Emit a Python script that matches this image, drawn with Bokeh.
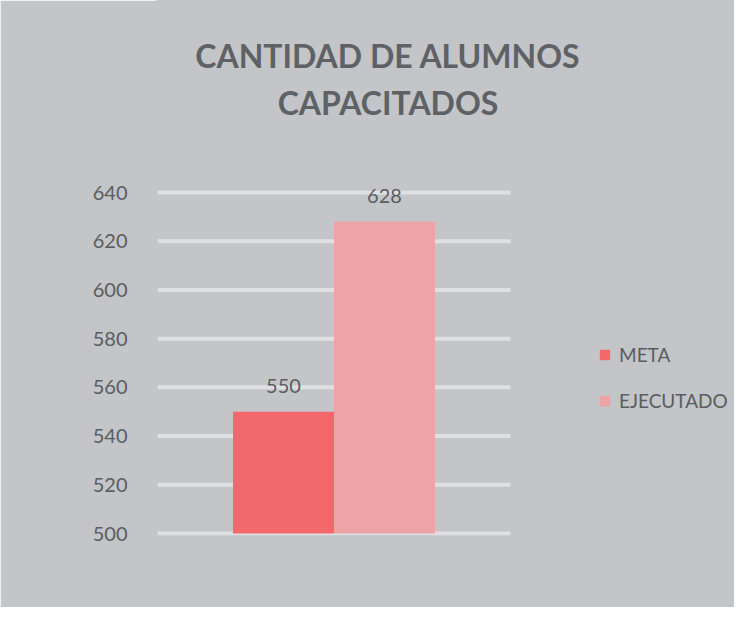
from bokeh.plotting import figure
from bokeh.models import (ColumnDataSource, Range1d, FixedTicker, Label,
                          Legend, LegendItem, LabelSet)
from bokeh.embed import file_html
from bokeh.resources import INLINE
from bokeh.core.properties import value

categories = ["META", "EJECUTADO"]
values = [550, 628]
bar_colors = ["#f2686c", "#eea3a7"]
y_ticks = [500, 520, 540, 560, 580, 600, 620, 640]
title_lines = ["CANTIDAD DE ALUMNOS", "CAPACITADOS"]

BG = "#c3c5c8"
TXT = "#5a5d61"
FONT = "Lato"

xs = list(range(len(categories)))
PAD = 0.7475  # side padding of plot area, in bar widths
grid_x0 = -0.5 - PAD
grid_x1 = len(categories) - 0.5 + PAD

p = figure(width=734, height=607, output_backend="svg", toolbar_location=None,
           x_range=Range1d(grid_x0, 4.4653), y_range=Range1d(499.179, 718.83))
p.min_border_left = 157
p.min_border_right = 0
p.min_border_top = 0
p.min_border_bottom = 72
p.background_fill_color = BG
p.border_fill_color = BG
p.outline_line_color = BG
p.outline_line_width = 3

p.xaxis.visible = False
p.xgrid.visible = False
p.ygrid.visible = False

# horizontal grid lines across the plot area only
p.segment(x0=[grid_x0] * len(y_ticks), x1=[grid_x1] * len(y_ticks), y0=y_ticks, y1=y_ticks,
          line_color="#dfe0e2", line_width=4)

src = ColumnDataSource(dict(x=xs, val=values, color=bar_colors, lab=[str(v) for v in values]))
r = p.vbar(x="x", top="val", bottom=500, width=1.0, color="color", line_color=None, source=src)

p.yaxis.ticker = FixedTicker(ticks=y_ticks)
p.yaxis.axis_line_color = None
p.yaxis.major_tick_line_color = None
p.yaxis.minor_tick_line_color = None
p.yaxis.major_label_standoff = 24
p.yaxis.major_label_text_font = FONT
p.yaxis.major_label_text_font_size = "20px"
p.yaxis.major_label_text_color = TXT

labels = LabelSet(x="x", y="val", text="lab", source=src, text_align="center",
                  text_baseline="alphabetic", y_offset=19, text_font=value(FONT),
                  text_font_size="20px", text_color=TXT)
p.add_layout(labels)

for i, t in enumerate(title_lines):
    p.add_layout(Label(x=230.5, y=480 - 46.5 * i, x_units="screen", y_units="screen", text=t,
                       text_align="center", text_baseline="middle", text_font=FONT,
                       text_font_size="32px", text_font_style="bold", text_color="#5e6165"))

items = [LegendItem(label=c, renderers=[r], index=i) for i, c in enumerate(categories)]
legend = Legend(items=items, location=(441, 123), background_fill_alpha=0,
                border_line_color=None, label_text_font=FONT, label_text_font_size="19px",
                label_text_color=TXT, glyph_width=13, glyph_height=13, label_standoff=8,
                spacing=23, padding=0, margin=0)
p.add_layout(legend, "center")

open("out.html", "w").write(file_html(p, INLINE))
